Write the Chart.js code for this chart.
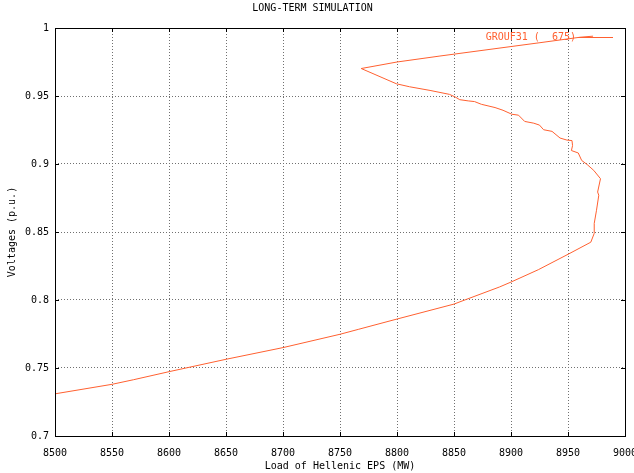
<!DOCTYPE html>
<html>
<head>
<meta charset="utf-8">
<title>LONG-TERM SIMULATION</title>
<script src="https://cdn.jsdelivr.net/npm/chart.js@4/dist/chart.umd.min.js"></script>
<style>
    html, body { margin: 0; padding: 0; background: #fff; }
    #wrap { width: 634px; height: 473px; }
</style>
</head>
<body>
<div id="wrap"><canvas id="simChart" width="634" height="473"></canvas></div>
<script>
// load (MW) and voltage (p.u.), in path order
const loads = [8500, 8550, 8569, 8600, 8650, 8700, 8750, 8766, 8800, 8850,
    8861, 8890, 8900, 8924, 8950, 8970, 8973, 8973, 8975, 8977,
    8976, 8978.5, 8972.6, 8966.8, 8962, 8959, 8953, 8954, 8953.5, 8949,
    8943, 8936, 8928.6, 8925, 8920, 8912, 8906.6, 8900.7, 8893, 8886,
    8874, 8868, 8862.5, 8855, 8851, 8846, 8829, 8811, 8799.4, 8768.6,
    8800, 8837.7, 8925.4, 8960.5, 8972];
const voltages = [0.731, 0.738, 0.7414, 0.7473, 0.7564, 0.765, 0.7748, 0.7784, 0.786, 0.797,
    0.8005, 0.8096, 0.8132, 0.8223, 0.8336, 0.8425, 0.849, 0.8563, 0.866, 0.877,
    0.8794, 0.8892, 0.8953, 0.8996, 0.9026, 0.9081, 0.9099, 0.9135, 0.9172, 0.9176,
    0.9191, 0.924, 0.9252, 0.9286, 0.93, 0.9313, 0.9359, 0.9366, 0.9395, 0.9415,
    0.9439, 0.9459, 0.9464, 0.9473, 0.9493, 0.9512, 0.9541, 0.9568, 0.959, 0.9702,
    0.975, 0.9794, 0.9892, 0.9932, 0.994];

const xTicks = [8500, 8550, 8600, 8650, 8700, 8750, 8800, 8850, 8900, 8950, 9000];
const yTicks = [0.7, 0.75, 0.8, 0.85, 0.9, 0.95, 1];
const seriesName = 'GROUF31 (  675)';

const lineColor = '#ff6030';
const monoFont = { family: 'DejaVu Sans Mono', size: 10, lineHeight: 1.2 };

// gnuplot style frame, inward ticks and the key
const framePlugin = {
    id: 'frame',
    afterDatasetsDraw(chart) {
        const ctx = chart.ctx;
        const a = chart.chartArea;
        const xs = chart.scales.x, ys = chart.scales.y;
        ctx.save();
        ctx.strokeStyle = '#000';
        ctx.lineWidth = 1;
        ctx.setLineDash([]);
        ctx.beginPath();
        xTicks.forEach(v => {
            const px = Math.round(xs.getPixelForValue(v)) + 0.5;
            ctx.moveTo(px, a.bottom); ctx.lineTo(px, a.bottom - 4);
            ctx.moveTo(px, a.top); ctx.lineTo(px, a.top + 4);
        });
        yTicks.forEach(v => {
            const py = Math.round(ys.getPixelForValue(v)) + 0.5;
            ctx.moveTo(a.left, py); ctx.lineTo(a.left + 4, py);
            ctx.moveTo(a.right, py); ctx.lineTo(a.right - 4, py);
        });
        ctx.stroke();
        ctx.strokeRect(Math.round(a.left) + 0.5, Math.round(a.top) + 0.5,
            Math.round(a.right - a.left), Math.round(a.bottom - a.top));

        // key
        ctx.font = '10px "DejaVu Sans Mono"';
        ctx.fillStyle = lineColor;
        ctx.textAlign = 'right';
        ctx.textBaseline = 'middle';
        ctx.fillText(seriesName, a.right - 49, a.top + 9);
        ctx.strokeStyle = lineColor;
        ctx.beginPath();
        ctx.moveTo(a.right - 47, a.top + 9.5);
        ctx.lineTo(a.right - 12, a.top + 9.5);
        ctx.stroke();
        ctx.restore();
    }
};

document.addEventListener('DOMContentLoaded', function() {
    const points = loads.map((x, i) => ({ x: x, y: voltages[i] }));
    const ctx = document.getElementById('simChart').getContext('2d');

    new Chart(ctx, {
        type: 'scatter',
        data: {
            datasets: [{
                label: seriesName,
                data: points,
                showLine: true,
                borderColor: lineColor,
                borderWidth: 1,
                pointRadius: 0,
                tension: 0
            }]
        },
        options: {
            responsive: false,
            animation: false,
            events: [],
            layout: {
                autoPadding: false,
                padding: { left: 0, right: 9, top: 0, bottom: 0 }
            },
            scales: {
                x: {
                    type: 'linear',
                    min: 8500,
                    max: 9000,
                    afterBuildTicks: s => { s.ticks = xTicks.map(v => ({ value: v })); },
                    afterFit: s => { s.height = 37; s.paddingLeft = 0; s.paddingRight = 0; },
                    grid: { color: '#707070', lineWidth: 1, drawTicks: false },
                    border: { display: false, dash: [1, 2] },
                    ticks: {
                        color: '#000', font: monoFont, padding: 11, maxRotation: 0, autoSkip: false,
                        callback: v => String(v)
                    },
                    title: { display: true, text: 'Load of Hellenic EPS (MW)', color: '#000', font: monoFont, padding: { top: 0, bottom: 1 } }
                },
                y: {
                    type: 'linear',
                    min: 0.7,
                    max: 1,
                    afterBuildTicks: s => { s.ticks = yTicks.map(v => ({ value: v })); },
                    afterFit: s => { s.width = 55; s.paddingTop = 0; s.paddingBottom = 0; },
                    grid: { color: '#707070', lineWidth: 1, drawTicks: false },
                    border: { display: false, dash: [1, 2] },
                    ticks: {
                        color: '#000', font: monoFont, padding: 6, autoSkip: false,
                        callback: v => String(Math.round(v * 100) / 100)
                    },
                    title: { display: true, text: 'Voltages (p.u.)', color: '#000', font: monoFont, padding: { top: 6, bottom: 0 } }
                }
            },
            plugins: {
                legend: { display: false },
                tooltip: { enabled: false },
                title: {
                    display: true,
                    text: 'LONG-TERM SIMULATION',
                    color: '#000',
                    font: { family: 'DejaVu Sans Mono', size: 10, weight: 'normal', lineHeight: 1.2 },
                    padding: { top: 2, bottom: 14 }
                }
            }
        },
        plugins: [framePlugin]
    });
});
</script>
</body>
</html>
